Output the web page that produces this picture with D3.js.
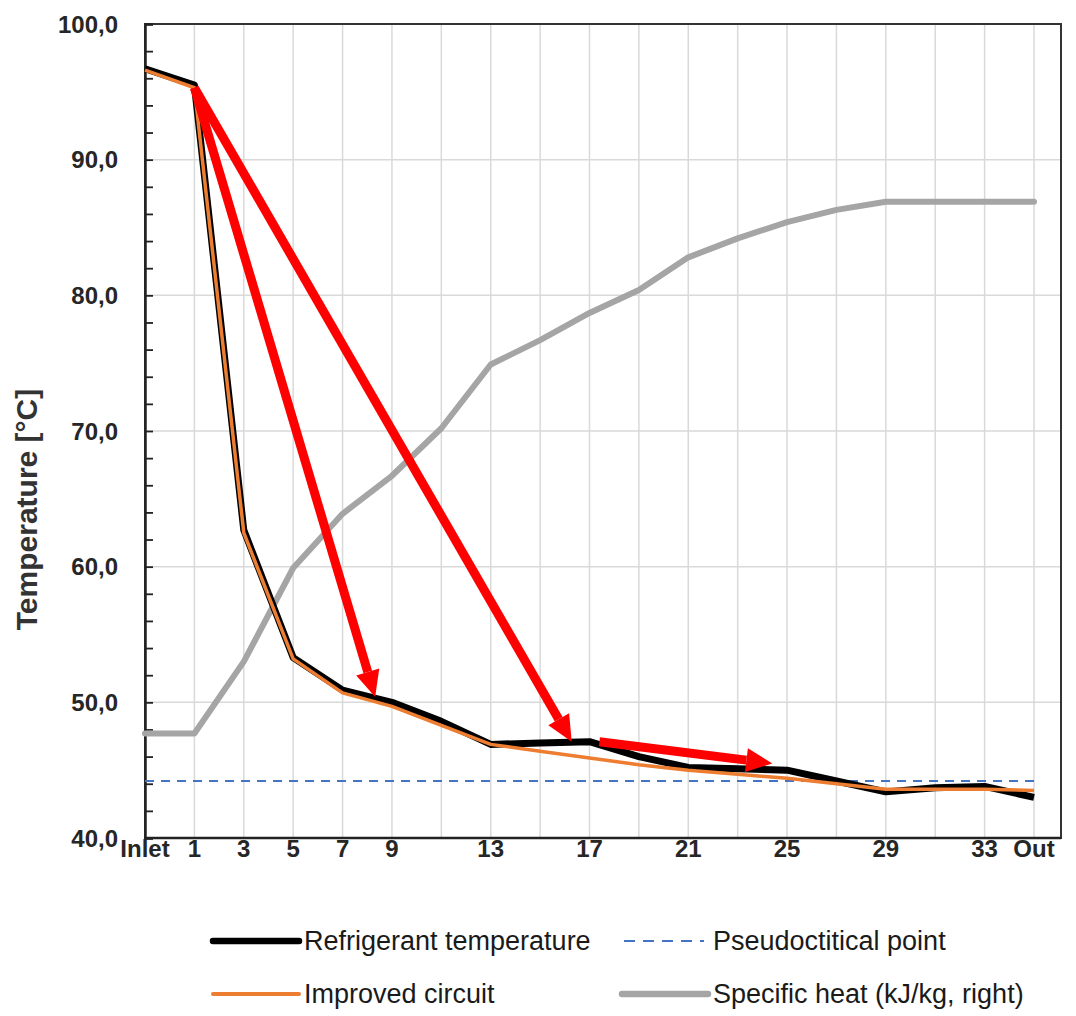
<!DOCTYPE html>
<html>
<head>
<meta charset="utf-8">
<script src="https://cdn.jsdelivr.net/npm/d3@7"></script>
<style>
  body { margin: 0; background: #fff; }
  svg { display: block; }
</style>
</head>
<body>
<svg id="chart"></svg>
<script>
const W = 1076;
const H = 1016;

// x categories (segments of the gas cooler)
const categories = ["Inlet", "1", "3", "5", "7", "9", "11", "13", "15", "17", "19", "21", "23", "25", "27", "29", "31", "33", "Out"];
const shownLabels = ["Inlet", "1", "3", "5", "7", "9", "13", "17", "21", "25", "29", "33", "Out"];

// values
const refrigerantTemp = [96.7, 95.5, 62.7, 53.3, 50.9, 50.0, 48.6, 46.9, 47.0, 47.1, 46.0, 45.2, 45.1, 45.0, 44.2, 43.4, 43.7, 43.8, 43.0];
const improvedCircuit = [96.6, 95.3, 62.5, 53.2, 50.7, 49.7, 48.3, 46.9, 46.4, 45.9, 45.4, 45.0, 44.7, 44.4, 44.0, 43.6, 43.6, 43.6, 43.5];
// specific heat, right axis (labels not visible in the picture)
const specificHeat = [1.54, 1.54, 2.60, 3.98, 4.78, 5.34, 6.04, 6.98, 7.34, 7.74, 8.08, 8.56, 8.84, 9.08, 9.26, 9.38, 9.38, 9.38, 9.38];
const pseudocritical = 44.2;

const yTicks = [40, 50, 60, 70, 80, 90, 100];

// red annotation arrows: [fromIndex, fromTemp, toIndex, toTemp]
const arrows = [
    [1.0, 95.3, 4.66, 50.4],
    [1.0, 95.3, 8.64, 47.1],
    [9.2, 47.1, 12.7, 45.5]
];

const plot = { left: 145, right: 1034, frameRight: 1061, top: 24, bottom: 838 };

const svg = d3.select("#chart").attr("width", W).attr("height", H);

const x = d3.scalePoint(categories, [plot.left, plot.right]);
const xi = d3.scaleLinear([0, categories.length - 1], [plot.left, plot.right]);
const y = d3.scaleLinear([40, 100], [plot.bottom, plot.top]);
const yRight = d3.scaleLinear([0, 12], [plot.bottom, plot.top]);

// gridlines
svg.append("g")
    .selectAll("line.v")
    .data(categories.slice(1))
    .join("line")
    .attr("x1", d => x(d)).attr("x2", d => x(d))
    .attr("y1", plot.top).attr("y2", plot.bottom)
    .attr("stroke", "#d9d9d9").attr("stroke-width", 1.5);

svg.append("g")
    .selectAll("line.h")
    .data(yTicks.slice(1, -1))
    .join("line")
    .attr("x1", plot.left).attr("x2", plot.frameRight)
    .attr("y1", d => y(d)).attr("y2", d => y(d))
    .attr("stroke", "#d9d9d9").attr("stroke-width", 1.5);

// frame
svg.append("rect")
    .attr("x", plot.left).attr("y", plot.top)
    .attr("width", plot.frameRight - plot.left)
    .attr("height", plot.bottom - plot.top)
    .attr("fill", "none").attr("stroke", "#333").attr("stroke-width", 2);

// left axis: inward ticks every 2 degrees
const yAxis = d3.axisRight(y)
    .tickValues(d3.range(40, 101, 2))
    .tickSize(8)
    .tickFormat("");
svg.append("g")
    .attr("transform", `translate(${plot.left},0)`)
    .call(yAxis)
    .call(g => g.select(".domain").attr("stroke", "#222").attr("stroke-width", 2.5))
    .call(g => g.selectAll(".tick line").attr("stroke", "#222").attr("stroke-width", 1.8));

// left tick labels
svg.append("g")
    .selectAll("text")
    .data(yTicks)
    .join("text")
    .attr("x", 118)
    .attr("y", d => y(d))
    .attr("dy", "0.36em")
    .attr("text-anchor", "end")
    .attr("font-family", "Liberation Sans, Arial, sans-serif")
    .attr("font-weight", "bold")
    .attr("font-size", 24)
    .attr("fill", "#262626")
    .text(d => d3.format(".1f")(d).replace(".", ","));

// bottom axis line + labels
svg.append("line")
    .attr("x1", plot.left).attr("x2", plot.frameRight)
    .attr("y1", plot.bottom).attr("y2", plot.bottom)
    .attr("stroke", "#222").attr("stroke-width", 2.5);

svg.append("g")
    .selectAll("text")
    .data(shownLabels)
    .join("text")
    .attr("x", d => x(d))
    .attr("y", 857)
    .attr("text-anchor", "middle")
    .attr("font-family", "Liberation Sans, Arial, sans-serif")
    .attr("font-weight", "bold")
    .attr("font-size", 24)
    .attr("fill", "#262626")
    .text(d => d);

// y title
svg.append("text")
    .attr("transform", `translate(37,${(383 + 636) / 2}) rotate(-90)`)
    .attr("text-anchor", "middle")
    .attr("font-family", "Liberation Sans, Arial, sans-serif")
    .attr("font-weight", "bold")
    .attr("font-size", 30)
    .attr("fill", "#333")
    .text("Temperature [°C]");

// series
const line = d3.line()
    .x((d, i) => x(categories[i]))
    .y(d => y(d));
const lineRight = d3.line()
    .x((d, i) => x(categories[i]))
    .y(d => yRight(d));

svg.append("path")
    .datum(specificHeat)
    .attr("d", lineRight)
    .attr("fill", "none").attr("stroke", "#a5a5a5")
    .attr("stroke-width", 6).attr("stroke-linejoin", "round").attr("stroke-linecap", "round");

svg.append("line")
    .attr("x1", plot.left).attr("x2", plot.right)
    .attr("y1", y(pseudocritical)).attr("y2", y(pseudocritical))
    .attr("stroke", "#4472c4").attr("stroke-width", 2)
    .attr("stroke-dasharray", "9,7");

svg.append("path")
    .datum(refrigerantTemp)
    .attr("d", line)
    .attr("fill", "none").attr("stroke", "#000")
    .attr("stroke-width", 7).attr("stroke-linejoin", "round");

svg.append("path")
    .datum(improvedCircuit)
    .attr("d", line)
    .attr("fill", "none").attr("stroke", "#ed7d31")
    .attr("stroke-width", 3.5).attr("stroke-linejoin", "round");

// annotation arrows
function arrowPath(a) {
    const x1 = xi(a[0]), y1 = y(a[1]), x2 = xi(a[2]), y2 = y(a[3]);
    const ang = Math.atan2(y2 - y1, x2 - x1);
    const headLen = 26, headHalf = 12;
    const bx = x2 - headLen * Math.cos(ang), by = y2 - headLen * Math.sin(ang);
    const px = -Math.sin(ang), py = Math.cos(ang);
    return {
        shaft: [[x1, y1], [bx, by]],
        head: [[x2, y2], [bx + px * headHalf, by + py * headHalf], [bx - px * headHalf, by - py * headHalf]]
    };
}
const arrowG = svg.append("g");
arrows.forEach(a => {
    const p = arrowPath(a);
    arrowG.append("path")
        .attr("d", d3.line()(p.shaft))
        .attr("stroke", "#ff0000").attr("stroke-width", 9).attr("fill", "none");
    arrowG.append("path")
        .attr("d", d3.line()(p.head) + "Z")
        .attr("fill", "#ff0000");
});

// legend
const legendItems = [
    { label: "Refrigerant temperature", color: "#000", width: 6.5, dash: null, x: 213, y: 941 },
    { label: "Pseudoctitical point", color: "#4472c4", width: 2, dash: "11,8", x: 624, y: 941 },
    { label: "Improved circuit", color: "#ed7d31", width: 4, dash: null, x: 213, y: 994 },
    { label: "Specific heat (kJ/kg, right)", color: "#a5a5a5", width: 6.5, dash: null, x: 622, y: 994 }
];
const lg = svg.append("g")
    .selectAll("g")
    .data(legendItems)
    .join("g")
    .attr("transform", d => `translate(${d.x},${d.y})`);
lg.append("line")
    .attr("x1", 0).attr("x2", d => d.dash ? 80 : 86)
    .attr("stroke", d => d.color)
    .attr("stroke-width", d => d.width)
    .attr("stroke-dasharray", d => d.dash)
    .attr("stroke-linecap", d => d.dash ? "butt" : "round");
lg.append("text")
    .attr("x", d => d.dash ? 89 : 91)
    .attr("dy", "0.35em")
    .attr("font-family", "Liberation Sans Narrow, Arial Narrow, sans-serif")
    .attr("font-size", 27)
    .attr("fill", "#1a1a1a")
    .text(d => d.label);
</script>
</body>
</html>
